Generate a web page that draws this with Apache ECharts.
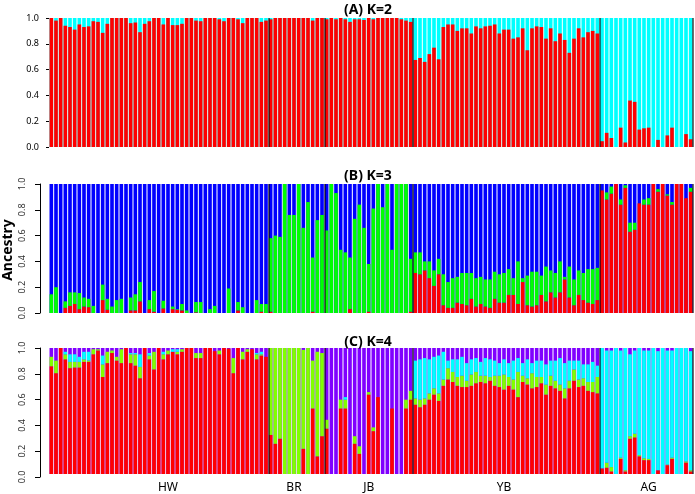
<!DOCTYPE html>
<html><head><meta charset="utf-8">
<script src="https://cdn.jsdelivr.net/npm/echarts@6/dist/echarts.min.js"></script>
<style>html,body{margin:0;padding:0;background:#fff}#c{width:695px;height:494px}</style>
</head><body><div id="c"></div>
<script>
// ---------- data ----------
const groups = ['HW', 'BR', 'JB', 'YB', 'AG'];
const groupSizes = [47, 12, 19, 40, 20];
const yTickLabels = ['0.0', '0.2', '0.4', '0.6', '0.8', '1.0'];
const panelTitles = ['(A) K=2', '(B) K=3', '(C) K=4'];
const yAxisTitle = 'Ancestry';

// K=2 : red share (cyan = rest)
const k2Red = [
  1.0,0.98,1.0,0.94,0.93,0.91,0.95,0.93,0.935,0.975,0.97,0.885,0.955,1.0,1.0,1.0,1.0,0.96,0.965,0.89,0.955,0.975,1.0,1.0,0.95,1.0,0.945,0.945,0.955,1.0,1.0,0.98,0.975,1.0,1.0,1.0,0.99,0.975,1.0,1.0,0.99,0.96,1.0,1.0,1.0,0.97,0.98,
  0.99,1.0,1.0,1.0,1.0,1.0,1.0,1.0,1.0,0.98,1.0,1.0,
  0.99,1.0,0.99,1.0,0.99,0.97,0.99,0.99,0.985,1.0,0.99,1.0,1.0,1.0,1.0,1.0,0.99,0.98,0.97,
  0.675,0.69,0.66,0.72,0.77,0.68,0.93,0.95,0.95,0.90,0.92,0.92,0.88,0.935,0.92,0.935,0.94,0.95,0.88,0.91,0.91,0.84,0.85,0.92,0.75,0.92,0.935,0.93,0.84,0.92,0.82,0.88,0.83,0.73,0.84,0.92,0.85,0.89,0.90,0.88,
  0.045,0.11,0.07,0,0.15,0.035,0.36,0.35,0.135,0.145,0.15,0,0.055,0,0.09,0.15,0,0,0.10,0.06
];

// K=3 : red and green shares (blue = rest)
const k3Red = [
  0,0,0,0.04,0.055,0.07,0.03,0.05,0.045,0,0,0.10,0.025,0,0,0,0,0.02,0.02,0.09,0,0.03,0.01,0,0.035,0,0.03,0.025,0.02,0,0,0.005,0,0,0,0,0,0,0,0,0.02,0,0,0,0,0.01,0,
  0.01,0,0,0,0,0,0,0,0,0.01,0,0,
  0,0,0,0,0,0.03,0,0,0,0.01,0,0,0,0,0,0,0,0,0.01,
  0.31,0.30,0.33,0.27,0.21,0.30,0.06,0.04,0.04,0.08,0.07,0.06,0.11,0.05,0.07,0.05,0.04,0.11,0.08,0.08,0.14,0.14,0.07,0.24,0.06,0.05,0.06,0.14,0.09,0.16,0.12,0.16,0.26,0.12,0.06,0.14,0.10,0.08,0.07,0.10,
  0.95,0.88,0.925,1.0,0.84,0.97,0.63,0.645,0.85,0.84,0.84,1.0,0.94,1.0,0.91,0.84,1.0,1.0,0.89,0.94
];
const k3Green = [
  0.145,0.20,0,0.05,0.105,0.09,0.125,0.07,0.065,0.055,0,0.12,0.085,0.05,0.10,0.11,0,0.10,0.125,0.15,0,0.07,0.16,0,0.06,0,0.02,0.005,0.05,0.02,0,0.08,0.085,0,0.03,0.055,0,0,0.19,0,0.065,0.045,0,0,0.10,0.06,0.07,
  0.57,0.60,0.59,1.0,0.76,0.76,1.0,0.66,0.86,0.42,0.72,0.76,
  0.64,1.0,0.93,0.49,0.47,0.40,0.73,0.84,0.66,0.37,0.81,1.0,0.82,1.0,0.49,1.0,1.0,1.0,0.41,
  0.16,0.17,0.07,0.13,0.12,0.12,0.24,0.20,0.23,0.20,0.24,0.25,0.20,0.22,0.21,0.21,0.22,0.21,0.22,0.23,0.20,0.13,0.33,0.03,0.23,0.27,0.26,0.15,0.27,0.17,0.19,0.24,0.02,0.24,0.20,0.19,0.21,0.26,0.27,0.25,
  0,0.055,0.055,0,0.04,0.02,0.07,0.055,0,0.04,0.05,0,0.02,0,0.01,0.02,0,0,0,0.03
];

// K=4 : red, lime and cyan shares (purple = rest)
const k4Red = [
  0.855,0.80,1.0,0.91,0.84,0.845,0.845,0.89,0.89,0.95,0.98,0.77,0.88,0.96,0.90,0.88,1.0,0.88,0.86,0.76,1.0,0.91,0.83,1.0,0.91,0.95,0.97,0.95,0.97,1.0,1.0,0.92,0.92,1.0,1.0,0.975,0.95,1.0,0.995,0.80,1.0,0.91,0.97,0.99,0.91,0.94,0.93,
  0.31,0.24,0.28,0,0,0,0,0.20,0,0.52,0.14,0.30,
  0.36,0,0,0.52,0.52,0,0.24,0.16,0,0.63,0.34,0.61,0,0,0.52,0,0,0.52,0.59,
  0.55,0.53,0.55,0.59,0.63,0.58,0.70,0.75,0.73,0.70,0.69,0.69,0.70,0.72,0.73,0.72,0.74,0.70,0.69,0.67,0.70,0.67,0.61,0.73,0.71,0.68,0.69,0.72,0.63,0.70,0.68,0.66,0.60,0.68,0.74,0.69,0.70,0.66,0.65,0.64,
  0.045,0.05,0.02,0,0.12,0.02,0.28,0.29,0.14,0.11,0.11,0,0.03,0,0.07,0.12,0,0,0.09,0.02
];
const k4Lime = [
  0.075,0.10,0,0.04,0.05,0.045,0.045,0.02,0.01,0.04,0.01,0.10,0.09,0.02,0.03,0.11,0,0.07,0.09,0.09,0,0.03,0.14,0,0.04,0.03,0,0.02,0.02,0,0,0.04,0.04,0,0,0,0.03,0,0,0.12,0,0.06,0.02,0,0.04,0.01,0,
  0.69,0.76,0.72,1.0,1.0,1.0,1.0,0.785,1.0,0.38,0.83,0.66,
  0.07,0,0,0.07,0.07,0,0.06,0.06,0,0.02,0.03,0,0,0,0,0,0,0.07,0.07,
  0.05,0.06,0.05,0.05,0.05,0.06,0.05,0.09,0.08,0.07,0.09,0.05,0.09,0.09,0.05,0.06,0.03,0.08,0.09,0.12,0.07,0.08,0.20,0.05,0.05,0.12,0.08,0.05,0.08,0.08,0.06,0.05,0.08,0.06,0.09,0.06,0.06,0.07,0.08,0.13,
  0,0.04,0.035,0,0.01,0.01,0.02,0.03,0.01,0.015,0.01,0,0,0,0.005,0.01,0,0,0.01,0.01
];
const k4Cyan = [
  0,0,0,0.02,0.06,0.06,0.04,0.06,0.07,0,0,0.07,0,0,0,0,0,0.01,0.01,0.10,0,0.02,0,0,0.02,0,0.02,0.02,0,0,0,0,0,0,0,0,0,0,0,0,0,0,0,0,0.01,0.02,0,
  0,0,0,0,0,0,0,0,0,0,0,0,
  0,0,0,0,0.02,0,0,0,0,0,0,0,0,0,0,0,0,0,0,
  0.30,0.32,0.32,0.27,0.25,0.30,0.22,0.06,0.10,0.14,0.15,0.14,0.12,0.11,0.11,0.14,0.14,0.12,0.10,0.12,0.11,0.15,0.11,0.10,0.15,0.08,0.13,0.13,0.16,0.12,0.16,0.21,0.20,0.16,0.07,0.15,0.11,0.14,0.16,0.09,
  0.955,0.89,0.925,1.0,0.85,0.97,0.65,0.66,0.85,0.855,0.86,1.0,0.945,1.0,0.905,0.85,1.0,1.0,0.90,0.945
];

// ---------- chart ----------
const groupLabelAt = [25, 5, 9, 19, 10]; // label position inside each group (bar index)
const categories = [];
const groupStart = [];
const labelIndex = {};
groups.forEach((g, gi) => {
  groupStart.push(categories.length);
  labelIndex[categories.length + groupLabelAt[gi]] = g;
  for (let i = 0; i < groupSizes[gi]; i++) categories.push(g + '_' + (i + 1));
});
const boundaries = groupStart.slice(1);

const C = { red: '#FF0000', cyan: '#00FFFF', blue: '#0000FF', green: '#00FF00', lime: '#80FF00', purple: '#8000FF' };
const gridTops = [18, 184, 348];
const PH = 129;
const FONT = '"Noto Sans", "DejaVu Sans", sans-serif';
const fmt = v => yTickLabels[Math.round(v * 5)];

const grids = gridTops.map(t => ({ left: 49, right: 2, top: t, height: PH, containLabel: false }));
// helper grids carrying the detached R-style y axes of panels B and C
grids.push({ left: 40, width: 5, top: gridTops[1], height: PH, containLabel: false });
grids.push({ left: 40, width: 5, top: gridTops[2], height: PH, containLabel: false });

const xAxes = gridTops.map((t, i) => ({
  type: 'category', gridIndex: i, data: categories, z: 10,
  axisLine: { show: false }, axisTick: { show: false },
  axisLabel: i === 2 ? {
    show: true, interval: 0, margin: 8, fontSize: 12, color: '#000', fontFamily: FONT,
    formatter: (v, idx) => labelIndex[idx] || ''
  } : { show: false },
  splitLine: { show: true, interval: (idx) => boundaries.indexOf(idx) >= 0,
    lineStyle: { color: 'rgba(0,0,0,0.7)', width: 1.6 } }
}));
xAxes.push({ type: 'value', gridIndex: 3, min: 0, max: 1, show: false });
xAxes.push({ type: 'value', gridIndex: 4, min: 0, max: 1, show: false });

const hiddenY = (gi) => ({ type: 'value', gridIndex: gi, min: 0, max: 1, interval: 0.2,
  axisLine: { show: false }, axisTick: { show: false }, axisLabel: { show: false }, splitLine: { show: false } });
const rY = (gi, tickLen, margin) => ({ type: 'value', gridIndex: gi, min: 0, max: 1, interval: 0.2,
  axisLine: { show: true, lineStyle: { color: '#000', width: 1 } },
  axisTick: { show: true, length: tickLen, lineStyle: { color: '#000' } },
  splitLine: { show: false },
  axisLabel: { show: true, fontSize: 9, color: '#333', rotate: 90, margin: margin, fontFamily: FONT, formatter: fmt } });

const yAxes = [
  { type: 'value', gridIndex: 0, min: 0, max: 1, interval: 0.2,
    axisLine: { show: false }, axisTick: { show: true, length: 3, lineStyle: { color: '#000' } },
    splitLine: { show: false },
    axisLabel: { fontSize: 9, color: '#000', margin: 10, fontFamily: FONT, formatter: fmt } },
  hiddenY(1),
  hiddenY(2),
  rY(3, 5, 13),
  rY(4, 5, 13)
];

function bar(data, color, idx, stack, bg) {
  const s = { type: 'bar', xAxisIndex: idx, yAxisIndex: idx, stack: stack, data: data,
    barCategoryGap: '22%', itemStyle: { color: color }, silent: true, animation: false };
  if (bg) { s.showBackground = true; s.backgroundStyle = { color: bg, opacity: 1 }; }
  return s;
}
const series = [
  bar(k2Red, C.red, 0, 'a', C.cyan),
  bar(k3Red, C.red, 1, 'b', C.blue),
  bar(k3Green, C.green, 1, 'b'),
  bar(k4Red, C.red, 2, 'c', C.purple),
  bar(k4Lime, C.lime, 2, 'c'),
  bar(k4Cyan, C.cyan, 2, 'c')
];
const titles = panelTitles.map((t, i) => ({
  text: t, left: 363, top: [-2, 164, 330][i], textAlign: 'center',
  textStyle: { fontSize: 14, fontWeight: 'bold', color: '#000', fontFamily: FONT }
}));

const chart = echarts.init(document.getElementById('c'), null, { renderer: 'canvas' });
chart.setOption({
  animation: false, backgroundColor: '#fff',
  title: titles, grid: grids, xAxis: xAxes, yAxis: yAxes, series: series,
  graphic: [{
    type: 'text', x: 8, y: 250, rotation: Math.PI / 2, silent: true,
    style: { text: yAxisTitle, align: 'center', verticalAlign: 'middle',
      fill: '#000', font: 'bold 14px "Noto Sans", "DejaVu Sans", sans-serif' }
  }]
});
</script></body></html>
